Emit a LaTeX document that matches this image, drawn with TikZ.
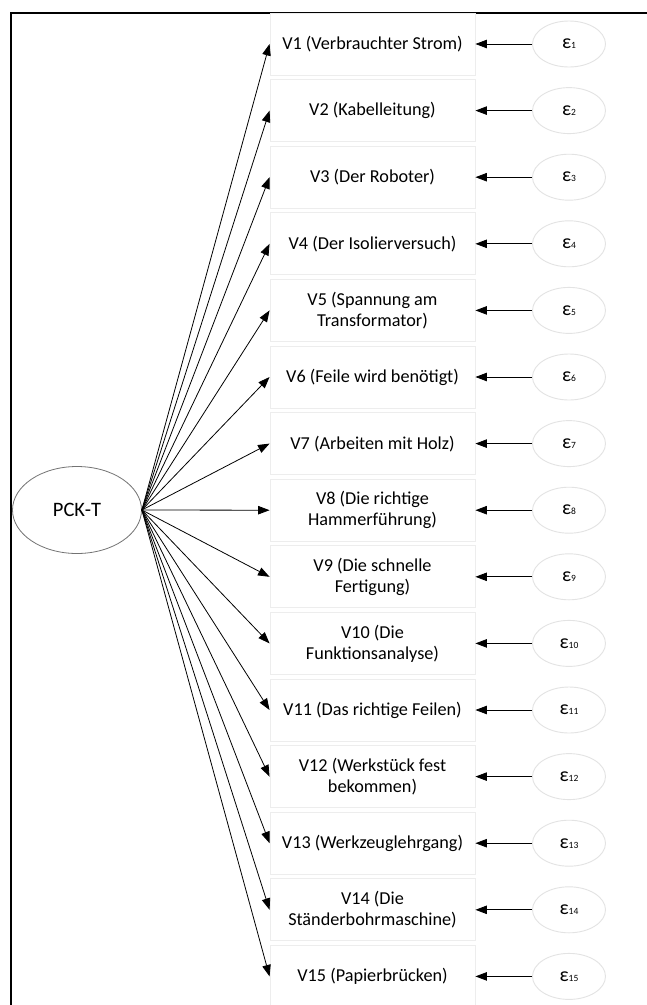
\documentclass[tikz,border=0pt]{standalone}
\usepackage{fontspec}
\setmainfont{Carlito}
\usetikzlibrary{arrows.meta,shapes.geometric}
\tikzset{
  obsbox/.style={draw=black!7,line width=0.9pt,minimum width=205pt,minimum height=62pt,inner sep=0pt,align=center,font=\fontsize{18.2}{21}\selectfont},
  errell/.style={ellipse,draw=black!11,line width=0.9pt,minimum width=73pt,minimum height=46pt,inner sep=0pt,font=\fontsize{20}{22}\selectfont},
  latell/.style={ellipse,draw=black!55,line width=0.8pt,minimum width=129pt,minimum height=87pt,inner sep=0pt,font=\fontsize{20.5}{22}\selectfont},
  conn/.style={line width=0.8pt,-{Triangle[length=11.5pt,width=8.5pt]}},
  frame/.style={line width=2.2pt}
}
\newcommand{\eps}[1]{ε{\fontsize{9.5}{10}\selectfont #1}}
\begin{document}
\begin{tikzpicture}[x=1pt,y=-1pt]
\useasboundingbox (0,0) rectangle (646,1005);
\fill[white] (0,0) rectangle (646,1005);
\coordinate (ftr) at (660,13);
\coordinate (ftl) at (11,13);
\coordinate (fbl) at (11,1020);
\draw[frame] (ftr) -- (ftl) -- (fbl);

\node[latell] (pck) at (77,510) {PCK-T};

\node[obsbox] (v1)  at (372.5,44.0)  {V1 (Verbrauchter Strom)};
\node[obsbox] (v2)  at (372.5,110.6) {V2 (Kabelleitung)};
\node[obsbox] (v3)  at (372.5,177.2) {V3 (Der Roboter)};
\node[obsbox] (v4)  at (372.5,243.8) {V4 (Der Isolierversuch)};
\node[obsbox] (v5)  at (372.5,310.4) {V5 (Spannung am\\Transformator)};
\node[obsbox] (v6)  at (372.5,377.0) {V6 (Feile wird benötigt)};
\node[obsbox] (v7)  at (372.5,443.6) {V7 (Arbeiten mit Holz)};
\node[obsbox] (v8)  at (372.5,510.2) {V8 (Die richtige\\Hammerführung)};
\node[obsbox] (v9)  at (372.5,576.8) {V9 (Die schnelle\\Fertigung)};
\node[obsbox] (v10) at (372.5,643.4) {V10 (Die\\Funktionsanalyse)};
\node[obsbox] (v11) at (372.5,710.0) {V11 (Das richtige Feilen)};
\node[obsbox] (v12) at (372.5,776.6) {V12 (Werkstück fest\\bekommen)};
\node[obsbox] (v13) at (372.5,843.2) {V13 (Werkzeuglehrgang)};
\node[obsbox] (v14) at (372.5,909.8) {V14 (Die\\Ständerbohrmaschine)};
\node[obsbox] (v15) at (372.5,976.4) {V15 (Papierbrücken)};

\node[errell] (e1)  at (569,44.0)  {\eps{1}};
\node[errell] (e2)  at (569,110.6) {\eps{2}};
\node[errell] (e3)  at (569,177.2) {\eps{3}};
\node[errell] (e4)  at (569,243.8) {\eps{4}};
\node[errell] (e5)  at (569,310.4) {\eps{5}};
\node[errell] (e6)  at (569,377.0) {\eps{6}};
\node[errell] (e7)  at (569,443.6) {\eps{7}};
\node[errell] (e8)  at (569,510.2) {\eps{8}};
\node[errell] (e9)  at (569,576.8) {\eps{9}};
\node[errell] (e10) at (569,643.4) {\eps{10}};
\node[errell] (e11) at (569,710.0) {\eps{11}};
\node[errell] (e12) at (569,776.6) {\eps{12}};
\node[errell] (e13) at (569,843.2) {\eps{13}};
\node[errell] (e14) at (569,909.8) {\eps{14}};
\node[errell] (e15) at (569,976.4) {\eps{15}};

\foreach \i in {1,...,15}{
  \draw[conn] (pck.east) -- (v\i.west);
  \draw[conn] (e\i.west) -- (v\i.east);
}
\end{tikzpicture}
\end{document}
